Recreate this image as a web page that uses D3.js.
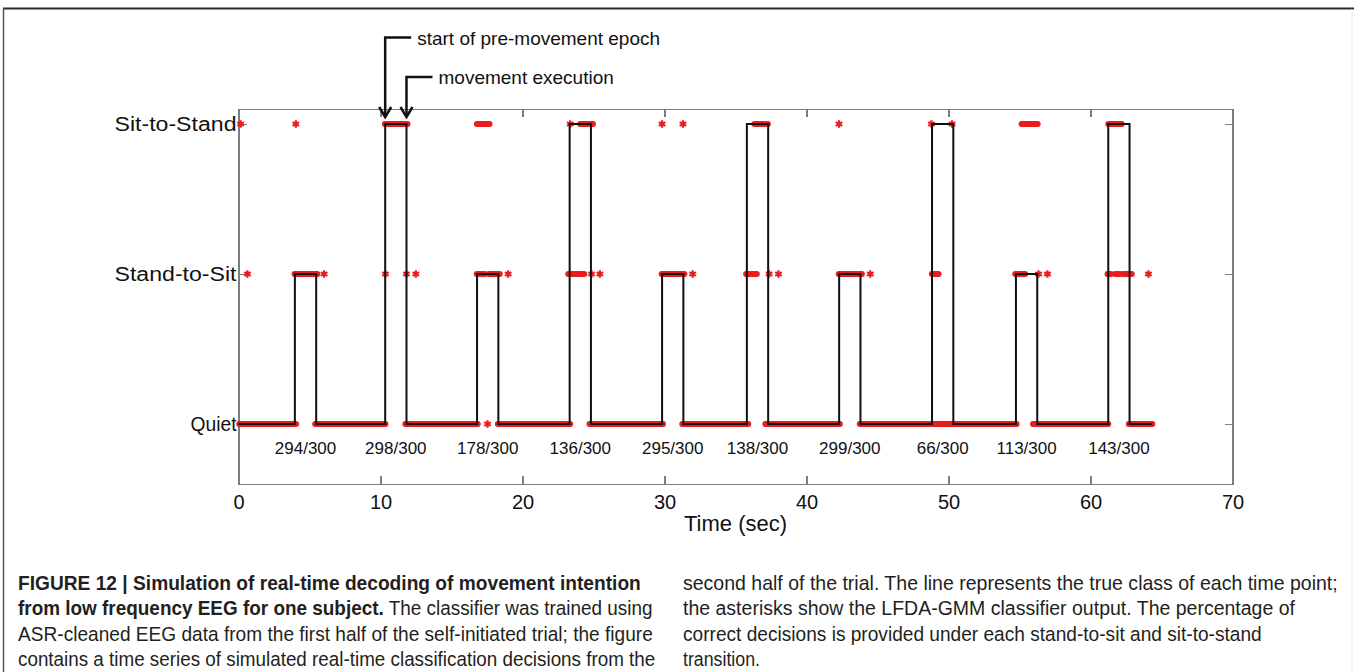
<!DOCTYPE html>
<html>
<head>
<meta charset="utf-8">
<script src="https://cdn.jsdelivr.net/npm/d3@7/dist/d3.min.js"></script>
<style>
  html, body { margin: 0; padding: 0; background: #fff; }
  svg { display: block; }
  .axis path, .axis line { stroke: #7d7d7d; stroke-width: 1.2; shape-rendering: crispEdges; }
  .axis text { fill: #111; font-family: "Liberation Sans", Arial, sans-serif; }
</style>
</head>
<body>
<svg id="fig" width="1354" height="672"></svg>
<script>
// Class codes: 1 = Quiet, 2 = Stand-to-Sit, 3 = Sit-to-Stand
const classCodes = [1, 2, 3];
const classLabels = ["Quiet", "Stand-to-Sit", "Sit-to-Stand"];
const timeTicks = [0, 10, 20, 30, 40, 50, 60, 70];

// True class: transition epochs (sec) and their class; Quiet elsewhere
const pulseStart = [3.97, 10.33, 16.80, 23.32, 29.83, 35.80, 42.30, 48.84, 54.75, 61.25];
const pulseEnd   = [5.47, 11.83, 18.30, 24.82, 31.33, 37.30, 43.80, 50.34, 56.25, 62.75];
const pulseClass = [2, 3, 2, 3, 2, 3, 2, 3, 2, 3];
const trialEnd = 64.35;

// Correct decisions within each transition epoch
const correctLabels = ["294/300", "298/300", "178/300", "136/300", "295/300",
                       "138/300", "299/300", "66/300", "113/300", "143/300"];

// Classifier output, as runs of consecutive identical decisions (start, end, class);
// a run with start == end is a single isolated decision
const quietStart = [0.05, 5.40, 11.75, 17.54, 18.27, 24.72, 31.25, 37.10, 43.75, 55.95, 62.70];
const quietEnd   = [4.05, 10.35, 16.85, 17.54, 23.36, 29.90, 35.90, 42.35, 54.80, 61.25, 64.35];

const standToSitStart = [0.63, 3.95, 6.03, 10.35, 11.83, 12.49, 16.78, 17.65, 18.99, 23.22, 24.86, 25.45,
                         29.80, 31.98, 35.75, 37.37, 38.03, 42.27, 44.49, 48.83, 54.70, 56.34, 56.97,
                         61.20, 61.74, 62.32, 64.08];
const standToSitEnd   = [0.63, 5.55, 6.03, 10.35, 11.83, 12.49, 17.38, 18.40, 18.99, 24.35, 24.86, 25.45,
                         31.40, 31.98, 36.50, 37.37, 38.03, 43.90, 44.49, 49.30, 55.40, 56.34, 56.97,
                         61.43, 62.09, 62.91, 64.08];

const sitToStandStart = [0.15, 4.04, 10.31, 16.79, 23.36, 24.06, 29.83, 31.30, 36.33, 42.29, 48.80, 50.25, 55.15, 61.25];
const sitToStandEnd   = [0.15, 4.04, 11.90, 17.68, 23.36, 24.96, 29.83, 31.30, 37.28, 42.29, 48.80, 50.25, 56.28, 62.20];

const annotationTexts = ["start of pre-movement epoch", "movement execution"];

const captionLeft = [
  [{t: "FIGURE 12 | Simulation of real-time decoding of movement intention", b: true}],
  [{t: "from low frequency EEG for one subject.", b: true}, {t: " The classifier was trained using", b: false}],
  [{t: "ASR-cleaned EEG data from the first half of the self-initiated trial; the figure", b: false}],
  [{t: "contains a time series of simulated real-time classification decisions from the", b: false}]
];
const captionRight = [
  "second half of the trial. The line represents the true class of each time point;",
  "the asterisks show the LFDA-GMM classifier output. The percentage of",
  "correct decisions is provided under each stand-to-sit and sit-to-stand",
  "transition."
];

// ---- layout ----
const svg = d3.select("#fig");
const plot = {left: 238.5, right: 1232.5, top: 109, bottom: 484};
const FONT = "'Liberation Sans', Arial, sans-serif";

const x = d3.scaleLinear().domain([0, 70]).range([plot.left, plot.right]);
const y = d3.scaleLinear().domain([0.6, 3.1]).range([plot.bottom, plot.top]);

// figure frame
svg.append("line").attr("x1", 3).attr("x2", 1354).attr("y1", 8.5).attr("y2", 8.5)
  .attr("stroke", "#2b2b2b").attr("stroke-width", 2);
svg.append("line").attr("x1", 3.5).attr("x2", 3.5).attr("y1", 8).attr("y2", 672)
  .attr("stroke", "#555").attr("stroke-width", 1.5);
svg.append("line").attr("x1", 1352).attr("x2", 1352).attr("y1", 9).attr("y2", 672)
  .attr("stroke", "#e6e6e6").attr("stroke-width", 1);

// axes (ticks point inward)
const gx = svg.append("g").attr("class", "axis").attr("transform", `translate(0,${plot.bottom})`)
  .call(d3.axisBottom(x).tickValues(timeTicks).tickSizeInner(-8).tickSizeOuter(0).tickPadding(11));
gx.selectAll("text").attr("font-size", 20);
svg.append("g").attr("class", "axis").attr("transform", `translate(0,${plot.top})`)
  .call(d3.axisTop(x).tickValues(timeTicks).tickSizeInner(-8).tickSizeOuter(0).tickFormat(""));
const gy = svg.append("g").attr("class", "axis").attr("transform", `translate(${plot.left},0)`)
  .call(d3.axisLeft(y).tickValues(classCodes).tickSizeInner(-8).tickSizeOuter(0).tickPadding(2)
    .tickFormat((d, i) => classLabels[i]));
const yLabelWidths = {"Quiet": 46, "Stand-to-Sit": 122, "Sit-to-Stand": 122};
gy.selectAll("text").attr("font-size", 20)
  .attr("textLength", (d, i) => yLabelWidths[classLabels[i]])
  .attr("lengthAdjust", "spacingAndGlyphs");
svg.append("g").attr("class", "axis").attr("transform", `translate(${plot.right},0)`)
  .call(d3.axisRight(y).tickValues(classCodes).tickSizeInner(-8).tickSizeOuter(0).tickFormat(""));

// classifier output (red asterisks)
const red = "#ec1c1c";
function drawRuns(starts, ends, cls) {
  const runs = starts.map((s, i) => ({s, e: ends[i], c: cls}));
  svg.append("g").selectAll("line").data(runs.filter(r => r.e > r.s)).join("line")
    .attr("x1", r => x(r.s)).attr("x2", r => x(r.e))
    .attr("y1", r => y(r.c)).attr("y2", r => y(r.c))
    .attr("stroke", red).attr("stroke-width", 6).attr("stroke-linecap", "round");
  svg.append("g").selectAll("path").data(runs.filter(r => r.e === r.s)).join("path")
    .attr("transform", r => `translate(${x(r.s)},${y(r.c)})`)
    .attr("d", d3.symbol().type(d3.symbolAsterisk).size(40))
    .attr("fill", "none").attr("stroke", red).attr("stroke-width", 2.2);
}
drawRuns(quietStart, quietEnd, 1);
drawRuns(standToSitStart, standToSitEnd, 2);
drawRuns(sitToStandStart, sitToStandEnd, 3);

// true class (black step line)
const truePts = [[0, 1]];
pulseStart.forEach((s, i) => { truePts.push([s, pulseClass[i]]); truePts.push([pulseEnd[i], 1]); });
truePts.push([trialEnd, 1]);
svg.append("path")
  .attr("d", d3.line().x(d => x(d[0])).y(d => y(d[1])).curve(d3.curveStepAfter)(truePts))
  .attr("fill", "none").attr("stroke", "#111").attr("stroke-width", 2);

// correct-decision counts under each transition
svg.append("g").selectAll("text").data(correctLabels).join("text")
  .attr("x", (d, i) => x((pulseStart[i] + pulseEnd[i]) / 2))
  .attr("y", 454)
  .attr("text-anchor", "middle").attr("font-family", FONT).attr("font-size", 17)
  .attr("fill", "#111").text(d => d);

// x-axis title
svg.append("text").attr("x", (plot.left + plot.right) / 2).attr("y", 531)
  .attr("text-anchor", "middle").attr("font-family", FONT).attr("font-size", 22)
  .attr("fill", "#111").text("Time (sec)");

// annotation arrows at the second transition epoch
const arrowTipY = 117;
const ann = [
  {xv: x(pulseStart[1]), yv: 37.5, text: annotationTexts[0]},
  {xv: x(pulseEnd[1]), yv: 77, text: annotationTexts[1]}
];
ann.forEach(a => {
  const g = svg.append("g").attr("stroke", "#111").attr("stroke-width", 2.5).attr("fill", "none");
  g.append("path").attr("d", `M${a.xv + 26},${a.yv}H${a.xv}V${arrowTipY}`);
  g.append("path").attr("d", `M${a.xv - 6},${arrowTipY - 10}L${a.xv},${arrowTipY}L${a.xv + 6},${arrowTipY - 10}`);
  svg.append("text").attr("x", a.xv + 32).attr("y", a.yv + 7)
    .attr("font-family", FONT).attr("font-size", 19).attr("fill", "#111").text(a.text);
});

// caption: two columns of condensed text, each line squeezed to its column measure
const capY0 = 590, capDy = 25.3;
const leftWidths = [623, 635, 635, 638];
const rightWidths = [655, 612, 579, 77];
function fitLine(textSel, x0, yy, target) {
  const natural = textSel.node().getComputedTextLength();
  const s = target / natural;
  textSel.attr("x", 0).attr("y", 0).attr("transform", `translate(${x0},${yy}) scale(${s},1)`);
}
captionLeft.forEach((parts, i) => {
  const t = svg.append("text").attr("font-family", FONT).attr("font-size", 19.5).attr("fill", "#231f20");
  parts.forEach(p => t.append("tspan").attr("font-weight", p.b ? "bold" : "normal").text(p.t));
  fitLine(t, 18, capY0 + i * capDy, leftWidths[i]);
});
captionRight.forEach((line, i) => {
  const t = svg.append("text").attr("font-family", FONT).attr("font-size", 19.5)
    .attr("fill", "#231f20").text(line);
  fitLine(t, 683, capY0 + i * capDy, rightWidths[i]);
});
</script>
</body>
</html>
